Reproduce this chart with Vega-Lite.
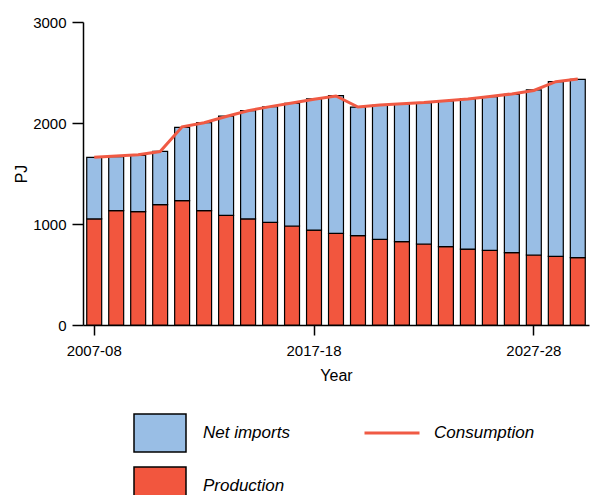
{
  "$schema": "https://vega.github.io/schema/vega-lite/v6.json",
  "width": 506,
  "height": 303,
  "autosize": {"type": "none"},
  "padding": {"left": 83, "top": 22, "right": 1, "bottom": 170},
  "config": {
    "view": {"stroke": null},
    "font": "Liberation Sans",
    "axis": {
      "domainColor": "black",
      "tickColor": "black",
      "labelColor": "black",
      "titleColor": "black",
      "grid": false,
      "labelFont": "Liberation Sans",
      "titleFont": "Liberation Sans",
      "labelFontSize": 15,
      "titleFontSize": 16,
      "titleFontWeight": "normal",
      "tickSize": 11,
      "domainWidth": 1.5,
      "tickWidth": 1.5
    },
    "legend": {
      "labelFont": "Liberation Sans",
      "labelFontSize": 17,
      "labelFontStyle": "italic",
      "labelColor": "black",
      "padding": 0,
      "rowPadding": 4,
      "labelOffset": 16,
      "title": null
    }
  },
  "datasets": {
    "bars": [
      {"year": "2007-08", "series": "Production", "value": 1050},
      {"year": "2008-09", "series": "Production", "value": 1132},
      {"year": "2009-10", "series": "Production", "value": 1122},
      {"year": "2010-11", "series": "Production", "value": 1191},
      {"year": "2011-12", "series": "Production", "value": 1231},
      {"year": "2012-13", "series": "Production", "value": 1132},
      {"year": "2013-14", "series": "Production", "value": 1086},
      {"year": "2014-15", "series": "Production", "value": 1050},
      {"year": "2015-16", "series": "Production", "value": 1017},
      {"year": "2016-17", "series": "Production", "value": 980},
      {"year": "2017-18", "series": "Production", "value": 940},
      {"year": "2018-19", "series": "Production", "value": 907},
      {"year": "2019-20", "series": "Production", "value": 885},
      {"year": "2020-21", "series": "Production", "value": 848},
      {"year": "2021-22", "series": "Production", "value": 825},
      {"year": "2022-23", "series": "Production", "value": 802},
      {"year": "2023-24", "series": "Production", "value": 776},
      {"year": "2024-25", "series": "Production", "value": 752},
      {"year": "2025-26", "series": "Production", "value": 739},
      {"year": "2026-27", "series": "Production", "value": 716},
      {"year": "2027-28", "series": "Production", "value": 693},
      {"year": "2028-29", "series": "Production", "value": 680},
      {"year": "2029-30", "series": "Production", "value": 667},
      {"year": "2007-08", "series": "Net imports", "value": 610},
      {"year": "2008-09", "series": "Net imports", "value": 535},
      {"year": "2009-10", "series": "Net imports", "value": 558},
      {"year": "2010-11", "series": "Net imports", "value": 529},
      {"year": "2011-12", "series": "Net imports", "value": 726},
      {"year": "2012-13", "series": "Net imports", "value": 871},
      {"year": "2013-14", "series": "Net imports", "value": 983},
      {"year": "2014-15", "series": "Net imports", "value": 1072},
      {"year": "2015-16", "series": "Net imports", "value": 1144},
      {"year": "2016-17", "series": "Net imports", "value": 1215},
      {"year": "2017-18", "series": "Net imports", "value": 1300},
      {"year": "2018-19", "series": "Net imports", "value": 1364},
      {"year": "2019-20", "series": "Net imports", "value": 1273},
      {"year": "2020-21", "series": "Net imports", "value": 1327},
      {"year": "2021-22", "series": "Net imports", "value": 1363},
      {"year": "2022-23", "series": "Net imports", "value": 1399},
      {"year": "2023-24", "series": "Net imports", "value": 1442},
      {"year": "2024-25", "series": "Net imports", "value": 1486},
      {"year": "2025-26", "series": "Net imports", "value": 1522},
      {"year": "2026-27", "series": "Net imports", "value": 1568},
      {"year": "2027-28", "series": "Net imports", "value": 1634},
      {"year": "2028-29", "series": "Net imports", "value": 1729},
      {"year": "2029-30", "series": "Net imports", "value": 1765}
    ],
    "cons": [
      {"year": "2007-08", "series": "Consumption", "value": 1660},
      {"year": "2008-09", "series": "Consumption", "value": 1673},
      {"year": "2009-10", "series": "Consumption", "value": 1685},
      {"year": "2010-11", "series": "Consumption", "value": 1718},
      {"year": "2011-12", "series": "Consumption", "value": 1962},
      {"year": "2012-13", "series": "Consumption", "value": 2003},
      {"year": "2013-14", "series": "Consumption", "value": 2065},
      {"year": "2014-15", "series": "Consumption", "value": 2122},
      {"year": "2015-16", "series": "Consumption", "value": 2162},
      {"year": "2016-17", "series": "Consumption", "value": 2198},
      {"year": "2017-18", "series": "Consumption", "value": 2235},
      {"year": "2018-19", "series": "Consumption", "value": 2268},
      {"year": "2019-20", "series": "Consumption", "value": 2158},
      {"year": "2020-21", "series": "Consumption", "value": 2178},
      {"year": "2021-22", "series": "Consumption", "value": 2190},
      {"year": "2022-23", "series": "Consumption", "value": 2202},
      {"year": "2023-24", "series": "Consumption", "value": 2220},
      {"year": "2024-25", "series": "Consumption", "value": 2238},
      {"year": "2025-26", "series": "Consumption", "value": 2262},
      {"year": "2026-27", "series": "Consumption", "value": 2288},
      {"year": "2027-28", "series": "Consumption", "value": 2322},
      {"year": "2028-29", "series": "Consumption", "value": 2409},
      {"year": "2029-30", "series": "Consumption", "value": 2435}
    ]
  },
  "encoding": {
    "x": {
      "field": "year",
      "type": "ordinal",
      "title": "Year",
      "scale": {"paddingInner": 0.32, "paddingOuter": 0.17},
      "axis": {
        "values": ["2007-08", "2017-18", "2027-28"],
        "labelAngle": 0,
        "labelPadding": 8,
        "titlePadding": 9,
        "tickSize": 10
      }
    }
  },
  "layer": [
    {
      "data": {"name": "bars"},
      "mark": {"type": "bar", "stroke": "black", "strokeWidth": 1.2},
      "encoding": {
        "y": {
          "field": "value",
          "type": "quantitative",
          "stack": "zero",
          "title": "PJ",
          "scale": {"domain": [0, 3000], "nice": false},
          "axis": {"values": [0, 1000, 2000, 3000], "format": "d", "titlePadding": 3, "labelPadding": 6}
        },
        "fill": {
          "field": "series",
          "type": "nominal",
          "scale": {"domain": ["Net imports", "Production"], "range": ["#99BEE5", "#F2563E"]},
          "legend": {
            "orient": "none",
            "legendX": 50,
            "legendY": 384,
            "direction": "vertical",
            "symbolType": "M-1,-0.73H1V0.73H-1Z",
            "symbolSize": 2704,
            "symbolStrokeColor": "black",
            "symbolStrokeWidth": 1.5,
            "symbolOpacity": 1
          }
        },
        "order": {"field": "series", "sort": "descending"}
      }
    },
    {
      "data": {"name": "cons"},
      "mark": {"type": "line", "strokeWidth": 3},
      "encoding": {
        "y": {"field": "value", "type": "quantitative"},
        "stroke": {
          "field": "series",
          "type": "nominal",
          "scale": {"domain": ["Consumption"], "range": ["#F05A44"]},
          "legend": {
            "orient": "none",
            "legendX": 280,
            "legendY": 382,
            "labelOffset": 13,
            "symbolType": "stroke",
            "symbolSize": 3025,
            "symbolStrokeWidth": 3
          }
        }
      }
    }
  ]
}
